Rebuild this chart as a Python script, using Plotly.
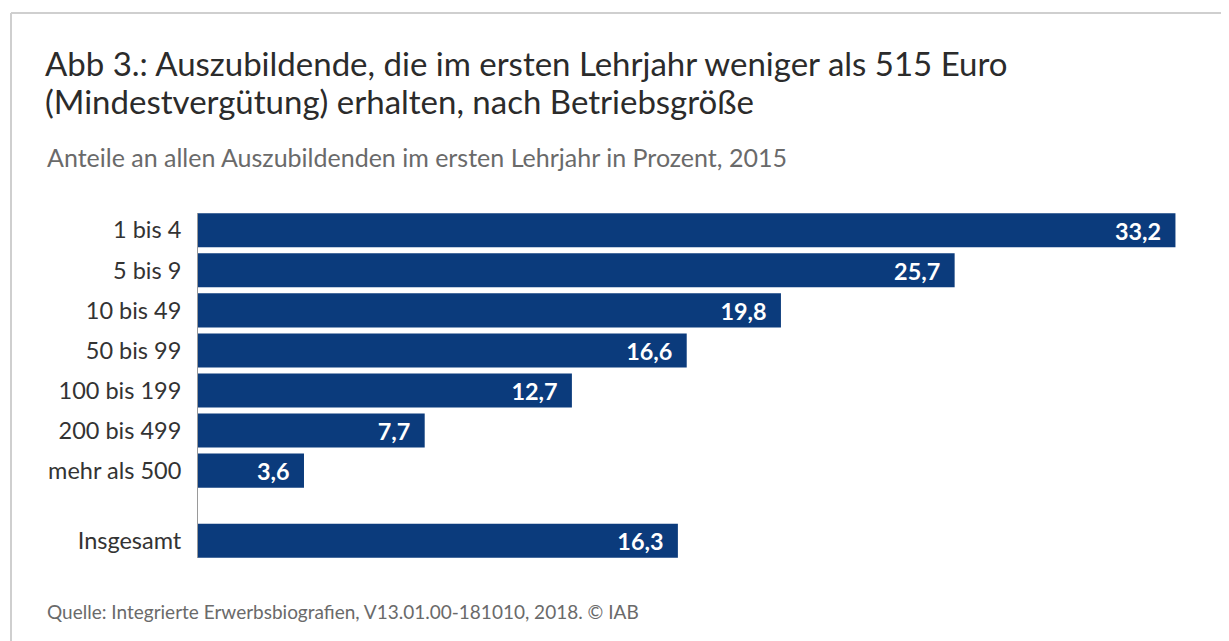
import plotly.graph_objects as go

categories = ["1 bis 4", "5 bis 9", "10 bis 49", "50 bis 99", "100 bis 199",
              "200 bis 499", "mehr als 500"]
values = [33.2, 25.7, 19.8, 16.6, 12.7, 7.7, 3.6]
total_label = "Insgesamt"
total_value = 16.3

title_line1 = "Abb 3.: Auszubildende, die im ersten Lehrjahr weniger als 515 Euro"
title_line2 = "(Mindestvergütung) erhalten, nach Betriebsgröße"
subtitle_text = "Anteile an allen Auszubildenden im ersten Lehrjahr in Prozent, 2015"
source_text = "Quelle: Integrierte Erwerbsbiografien, V13.01.00-181010, 2018. © IAB"

OFF = 8  # page body offset
W, H = 1229 - OFF, 641 - OFF
L, T = 198 - OFF, 213 - OFF
R = 30
B = H - (558 - OFF)
PW, PH = W - L - R, H - T - B

def px(x):
    return (x - OFF - L) / PW

def py(y):
    return 1 - (y - OFF - T) / PH

labels = categories + [total_label]
vals = values + [total_value]
# group rows on consecutive slots, the total after a smaller gap
ypos = list(range(len(categories))) + [len(categories) + 0.75]

BAR = "#0b3b7c"
FONT = "Lato, Noto Sans, sans-serif"

fig = go.Figure(go.Bar(
    x=vals, y=ypos, orientation="h", width=0.85,
    marker=dict(color=BAR, line=dict(width=0)),
    texttemplate="%{x:.1f}\u00a0\u00a0", textposition="inside",
    insidetextanchor="end",
    textfont=dict(color="white", size=25, family=FONT, weight="bold"),
    hoverinfo="skip",
))

fig.update_layout(
    width=W, height=H,
    margin=dict(l=L, r=R, t=T, b=B),
    paper_bgcolor="white", plot_bgcolor="white",
    separators=",.",
    showlegend=False,
    font=dict(family=FONT, color="#333333"),
    xaxis=dict(range=[0, 34], visible=False, fixedrange=True),
    yaxis=dict(range=[ypos[-1] + 0.43, -0.43], tickmode="array",
               tickvals=ypos, ticktext=labels, showgrid=False, zeroline=False,
               showline=True, linecolor="#9a9a9a", linewidth=1,
               ticks="", ticklabelstandoff=11,
               tickfont=dict(size=23.5, color="#333333", family=FONT)),
    uniformtext=dict(mode=False),
)

def note(text, x, y, size, color):
    fig.add_annotation(text=text, xref="paper", yref="paper",
                       x=px(x), y=py(y), xanchor="left", yanchor="middle",
                       align="left", showarrow=False,
                       font=dict(size=size, color=color, family=FONT))

note(title_line1, 43, 63, 33, "#2b2b2b")
note(title_line2, 43, 101, 33, "#2b2b2b")
note(subtitle_text, 45, 157, 25, "#6a6a6a")
note(source_text, 45, 611, 19, "#6a6a6a")

# frame lines (top and left)
fig.add_shape(type="line", xref="paper", yref="paper",
              x0=px(11), x1=px(1240), y0=py(13), y1=py(13),
              line=dict(color="#cfcfcf", width=2))
fig.add_shape(type="line", xref="paper", yref="paper",
              x0=px(11), x1=px(11), y0=py(13), y1=py(660),
              line=dict(color="#cfcfcf", width=2))

fig.write_html("out.html")
